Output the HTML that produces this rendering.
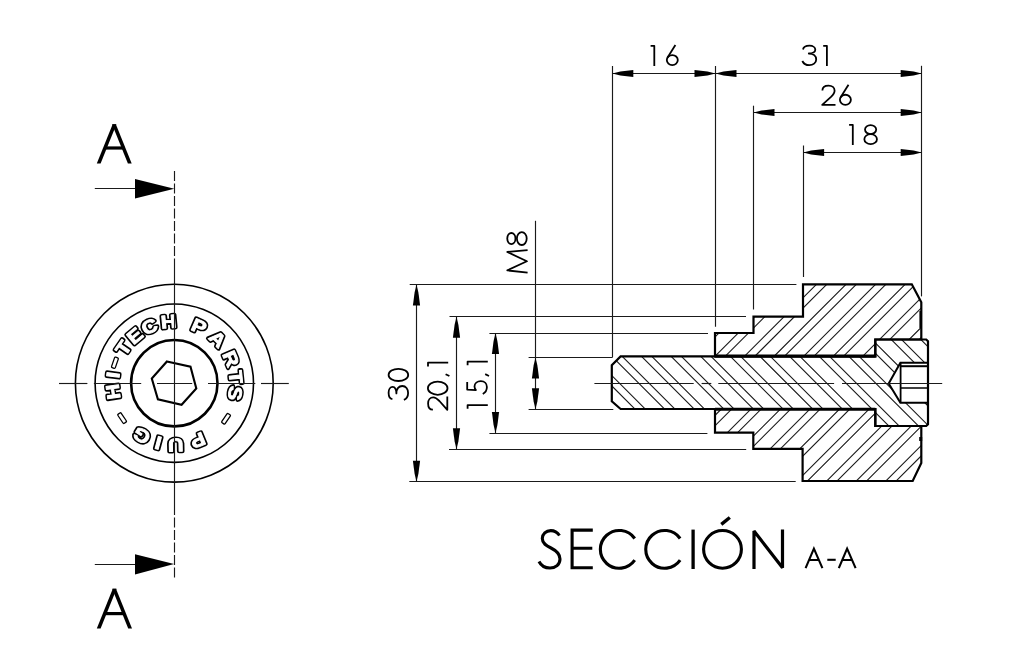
<!DOCTYPE html><html><head><meta charset="utf-8"><style>html,body{margin:0;padding:0;background:#fff;}svg{display:block;filter:grayscale(100%);}</style></head><body><svg width="1024" height="666" viewBox="0 0 1024 666">
<rect width="1024" height="666" fill="#fff"/>
<g stroke="#000" fill="none" stroke-linecap="butt">
<circle cx="174.3" cy="383.2" r="98.9" stroke-width="1.6"/>
<circle cx="174.3" cy="383.2" r="79.2" stroke-width="1.6"/>
<circle cx="174.3" cy="383.2" r="43.2" stroke-width="2.6"/>
<polygon points="166.9,361.5 190.5,366.7 196.3,388.5 181.6,404.8 157.9,399.3 151.8,378.5" stroke-width="2.1"/>
<line x1="94.8" y1="188.5" x2="136" y2="188.5" stroke-width="1.15" stroke="#1a1a1a" />
<polygon points="135,178.9 174.3,188.8 135,198.6" fill="#000" stroke="none"/>
<line x1="94.8" y1="564.5" x2="136" y2="564.5" stroke-width="1.15" stroke="#1a1a1a" />
<polygon points="135,554.3 174.1,564 135,574.5" fill="#000" stroke="none"/>
<polygon points="96.8,163.5 112.65,124.2 116.44999999999999,124.2 100.6,163.5" fill="#000" stroke="none"/>
<polygon points="112.05000000000001,124.2 115.85,124.2 131.7,163.5 127.89999999999999,163.5" fill="#000" stroke="none"/>
<rect x="104.05127226463104" y="146.4" width="20.39745547073791" height="3.2" fill="#000" stroke="none"/>
<polygon points="96.8,628.6 112.80000000000001,588.8 116.6,588.8 100.6,628.6" fill="#000" stroke="none"/>
<polygon points="112.20000000000002,588.8 116.0,588.8 132,628.6 128.2,628.6" fill="#000" stroke="none"/>
<rect x="103.83015075376883" y="612.0" width="21.13969849246233" height="3.2" fill="#000" stroke="none"/>
</g>
<g font-family="Liberation Sans, sans-serif" font-weight="bold" font-size="18.5" text-anchor="middle">
<text transform="rotate(262 174.3 383.2) translate(174.3 327.8) scale(1.15 1)" fill="#000" stroke="#000" stroke-width="4.0" stroke-linejoin="round">H</text>
<text transform="rotate(277.6 174.3 383.2) translate(174.3 327.8) scale(1.15 1)" fill="#000" stroke="#000" stroke-width="4.0" stroke-linejoin="round">I</text>
<text transform="rotate(304.6 174.3 383.2) translate(174.3 327.8) scale(1.15 1)" fill="#000" stroke="#000" stroke-width="4.0" stroke-linejoin="round">T</text>
<text transform="rotate(320.2 174.3 383.2) translate(174.3 327.8) scale(1.15 1)" fill="#000" stroke="#000" stroke-width="4.0" stroke-linejoin="round">E</text>
<text transform="rotate(336.3 174.3 383.2) translate(174.3 327.8) scale(1.15 1)" fill="#000" stroke="#000" stroke-width="4.0" stroke-linejoin="round">C</text>
<text transform="rotate(354.6 174.3 383.2) translate(174.3 327.8) scale(1.15 1)" fill="#000" stroke="#000" stroke-width="4.0" stroke-linejoin="round">H</text>
<text transform="rotate(23.6 174.3 383.2) translate(174.3 327.8) scale(1.15 1)" fill="#000" stroke="#000" stroke-width="4.0" stroke-linejoin="round">P</text>
<text transform="rotate(44.5 174.3 383.2) translate(174.3 327.8) scale(1.15 1)" fill="#000" stroke="#000" stroke-width="4.0" stroke-linejoin="round">A</text>
<text transform="rotate(66.6 174.3 383.2) translate(174.3 327.8) scale(1.15 1)" fill="#000" stroke="#000" stroke-width="4.0" stroke-linejoin="round">R</text>
<text transform="rotate(84.2 174.3 383.2) translate(174.3 327.8) scale(1.15 1)" fill="#000" stroke="#000" stroke-width="4.0" stroke-linejoin="round">T</text>
<text transform="rotate(99.3 174.3 383.2) translate(174.3 327.8) scale(1.15 1)" fill="#000" stroke="#000" stroke-width="4.0" stroke-linejoin="round">S</text>
<text transform="rotate(157.7 174.3 383.2) translate(174.3 327.8) scale(1.15 1)" fill="#000" stroke="#000" stroke-width="4.0" stroke-linejoin="round">P</text>
<text transform="rotate(178.7 174.3 383.2) translate(174.3 327.8) scale(1.15 1)" fill="#000" stroke="#000" stroke-width="4.0" stroke-linejoin="round">U</text>
<text transform="rotate(195 174.3 383.2) translate(174.3 327.8) scale(1.15 1)" fill="#000" stroke="#000" stroke-width="4.0" stroke-linejoin="round">I</text>
<text transform="rotate(211.9 174.3 383.2) translate(174.3 327.8) scale(1.15 1)" fill="#000" stroke="#000" stroke-width="4.0" stroke-linejoin="round">G</text>
<text transform="rotate(262 174.3 383.2) translate(174.3 327.8) scale(1.15 1)" fill="#fff" stroke="#fff" stroke-width="0.9" stroke-linejoin="round">H</text>
<text transform="rotate(277.6 174.3 383.2) translate(174.3 327.8) scale(1.15 1)" fill="#fff" stroke="#fff" stroke-width="0.9" stroke-linejoin="round">I</text>
<text transform="rotate(304.6 174.3 383.2) translate(174.3 327.8) scale(1.15 1)" fill="#fff" stroke="#fff" stroke-width="0.9" stroke-linejoin="round">T</text>
<text transform="rotate(320.2 174.3 383.2) translate(174.3 327.8) scale(1.15 1)" fill="#fff" stroke="#fff" stroke-width="0.9" stroke-linejoin="round">E</text>
<text transform="rotate(336.3 174.3 383.2) translate(174.3 327.8) scale(1.15 1)" fill="#fff" stroke="#fff" stroke-width="0.9" stroke-linejoin="round">C</text>
<text transform="rotate(354.6 174.3 383.2) translate(174.3 327.8) scale(1.15 1)" fill="#fff" stroke="#fff" stroke-width="0.9" stroke-linejoin="round">H</text>
<text transform="rotate(23.6 174.3 383.2) translate(174.3 327.8) scale(1.15 1)" fill="#fff" stroke="#fff" stroke-width="0.9" stroke-linejoin="round">P</text>
<text transform="rotate(44.5 174.3 383.2) translate(174.3 327.8) scale(1.15 1)" fill="#fff" stroke="#fff" stroke-width="0.9" stroke-linejoin="round">A</text>
<text transform="rotate(66.6 174.3 383.2) translate(174.3 327.8) scale(1.15 1)" fill="#fff" stroke="#fff" stroke-width="0.9" stroke-linejoin="round">R</text>
<text transform="rotate(84.2 174.3 383.2) translate(174.3 327.8) scale(1.15 1)" fill="#fff" stroke="#fff" stroke-width="0.9" stroke-linejoin="round">T</text>
<text transform="rotate(99.3 174.3 383.2) translate(174.3 327.8) scale(1.15 1)" fill="#fff" stroke="#fff" stroke-width="0.9" stroke-linejoin="round">S</text>
<text transform="rotate(157.7 174.3 383.2) translate(174.3 327.8) scale(1.15 1)" fill="#fff" stroke="#fff" stroke-width="0.9" stroke-linejoin="round">P</text>
<text transform="rotate(178.7 174.3 383.2) translate(174.3 327.8) scale(1.15 1)" fill="#fff" stroke="#fff" stroke-width="0.9" stroke-linejoin="round">U</text>
<text transform="rotate(195 174.3 383.2) translate(174.3 327.8) scale(1.15 1)" fill="#fff" stroke="#fff" stroke-width="0.9" stroke-linejoin="round">I</text>
<text transform="rotate(211.9 174.3 383.2) translate(174.3 327.8) scale(1.15 1)" fill="#fff" stroke="#fff" stroke-width="0.9" stroke-linejoin="round">G</text>
<rect x="168.8" y="318.4" width="11" height="4" rx="1" transform="rotate(289 174.3 383.2)" fill="#fff" stroke="#000" stroke-width="1.3"/>
<rect x="168.8" y="318.4" width="11" height="4" rx="1" transform="rotate(124.5 174.3 383.2)" fill="#fff" stroke="#000" stroke-width="1.3"/>
<rect x="168.8" y="318.4" width="11" height="4" rx="1" transform="rotate(236.2 174.3 383.2)" fill="#fff" stroke="#000" stroke-width="1.3"/>
</g>
<g stroke="#000" fill="none">
<line x1="59" y1="383.5" x2="87.4" y2="383.5" stroke-width="1.15" stroke="#1a1a1a" />
<line x1="93.9" y1="383.5" x2="141.2" y2="383.5" stroke-width="1.15" stroke="#1a1a1a" />
<line x1="157" y1="383.5" x2="192.2" y2="383.5" stroke-width="1.15" stroke="#1a1a1a" />
<line x1="208" y1="383.5" x2="255.3" y2="383.5" stroke-width="1.15" stroke="#1a1a1a" />
<line x1="261" y1="383.5" x2="288.8" y2="383.5" stroke-width="1.15" stroke="#1a1a1a" />
<line x1="174.5" y1="171" x2="174.5" y2="262" stroke-width="1.15" stroke="#1a1a1a" stroke-dasharray="10 2.5"/>
<line x1="174.5" y1="262" x2="174.5" y2="505" stroke-width="1.15" stroke="#1a1a1a" />
<line x1="174.5" y1="505" x2="174.5" y2="577.5" stroke-width="1.15" stroke="#1a1a1a" stroke-dasharray="10 2.5"/>
</g>
<defs>
<clipPath id="cn"><path d="M803,284.3 L911.8,284.3 L921.3,302.2 L921.3,339.5 L875.3,339.5 L875.3,356.4 L715,356.4 L715,333 L753.5,333 L753.5,316.6 L803,316.6 Z M802.6,481 L912.7,481 L921.3,462.9 L921.3,426 L875.3,426 L875.3,409 L715,409 L715,432.6 L753.3,432.6 L753.3,448.8 L802.6,448.8 Z"/></clipPath>
<clipPath id="cb"><path d="M620.6,356.4 L875.3,356.4 L875.3,339.5 L926.2,339.5 L928,341.3 L928,424.2 L926.2,426 L875.3,426 L875.3,409 L620.6,409 L611.8,401.3 L611.8,365.2 Z M928,362.8 L900.4,362.8 L888.7,383.5 L900.4,402.8 L928,402.8 Z" clip-rule="evenodd"/></clipPath>
</defs>
<path clip-path="url(#cn)" d="M492.86,500 L722.86,270 M512.12,500 L742.12,270 M522.42,500 L752.42,270 M541.6800000000001,500 L771.6800000000001,270 M551.98,500 L781.98,270 M571.24,500 L801.24,270 M581.54,500 L811.54,270 M600.8,500 L830.8,270 M611.0999999999999,500 L841.0999999999999,270 M630.3599999999999,500 L860.3599999999999,270 M640.6599999999999,500 L870.6599999999999,270 M659.9200000000001,500 L889.9200000000001,270 M670.22,500 L900.22,270 M689.48,500 L919.48,270 M699.78,500 L929.78,270 M719.04,500 L949.04,270 M729.3399999999999,500 L959.3399999999999,270 M748.5999999999999,500 L978.5999999999999,270 M758.8999999999999,500 L988.8999999999999,270 M778.1600000000001,500 L1008.1600000000001,270 M788.46,500 L1018.46,270 M807.72,500 L1037.72,270 M818.02,500 L1048.02,270 M837.28,500 L1067.28,270 M847.5799999999999,500 L1077.58,270 M866.8399999999999,500 L1096.84,270 M877.1399999999999,500 L1107.1399999999999,270 M896.4000000000001,500 L1126.4,270 M906.7,500 L1136.7,270" stroke="#1a1a1a" stroke-width="1.1" fill="none"/>
<path clip-path="url(#cb)" d="M506.96000000000004,330 L616.96,440 M526.28,330 L636.28,440 M536.58,330 L646.58,440 M555.9,330 L665.9,440 M566.2,330 L676.2,440 M585.52,330 L695.52,440 M595.8199999999999,330 L705.8199999999999,440 M615.14,330 L725.14,440 M625.44,330 L735.44,440 M644.76,330 L754.76,440 M655.06,330 L765.06,440 M674.38,330 L784.38,440 M684.6800000000001,330 L794.6800000000001,440 M704.0,330 L814.0,440 M714.3,330 L824.3,440 M733.62,330 L843.62,440 M743.9200000000001,330 L853.9200000000001,440 M763.24,330 L873.24,440 M773.54,330 L883.54,440 M792.86,330 L902.86,440 M803.1600000000001,330 L913.1600000000001,440 M822.48,330 L932.48,440 M832.78,330 L942.78,440 M852.1,330 L962.1,440 M862.4,330 L972.4,440 M881.72,330 L991.72,440 M892.02,330 L1002.02,440 M911.34,330 L1021.34,440 M921.64,330 L1031.6399999999999,440" stroke="#1a1a1a" stroke-width="1.1" fill="none"/>
<g stroke="#000" fill="none">
<path d="M803,284.3 L911.8,284.3 L921.3,302.2 L921.3,339.5 L875.3,339.5 L875.3,356.4 L715,356.4 L715,333 L753.5,333 L753.5,316.6 L803,316.6 Z" stroke-width="2.2" stroke-linejoin="miter"/>
<path d="M802.6,481 L912.7,481 L921.3,462.9 L921.3,426 L875.3,426 L875.3,409 L715,409 L715,432.6 L753.3,432.6 L753.3,448.8 L802.6,448.8 Z" stroke-width="2.2" stroke-linejoin="miter"/>
<path d="M620.6,356.4 L875.3,356.4 L875.3,339.5 L926.2,339.5 L928,341.3 L928,424.2 L926.2,426 L875.3,426 L875.3,409 L620.6,409 L611.8,401.3 L611.8,365.2 Z" stroke-width="2.2" stroke-linejoin="miter"/>
<line x1="715" y1="356.1" x2="875.3" y2="356.1" stroke-width="3.0" />
<line x1="715" y1="409.2" x2="875.3" y2="409.2" stroke-width="3.0" />
<rect x="919.4" y="311" width="2.4" height="17" fill="#000" stroke="none"/>
<rect x="919.2" y="437" width="3" height="4" fill="#000" stroke="none"/>
<path d="M928,362.8 L900.4,362.8 L888.7,383.5 L900.4,402.8 L928,402.8" stroke-width="2"/>
<line x1="900.6" y1="362.8" x2="900.6" y2="402.8" stroke-width="1.8" />
<line x1="900.6" y1="366.2" x2="928" y2="366.2" stroke-width="2.0" />
<line x1="901" y1="388" x2="928" y2="388" stroke-width="1.5" />
<line x1="594.4" y1="383.5" x2="693.7" y2="383.5" stroke-width="1.15" stroke="#1a1a1a" />
<line x1="701.6" y1="383.5" x2="711.3" y2="383.5" stroke-width="1.15" stroke="#1a1a1a" />
<line x1="718.3" y1="383.5" x2="834.1" y2="383.5" stroke-width="1.15" stroke="#1a1a1a" />
<line x1="842" y1="383.5" x2="942.2" y2="383.5" stroke-width="1.15" stroke="#1a1a1a" />
<line x1="612.5" y1="66" x2="612.5" y2="357" stroke-width="1.15" stroke="#1a1a1a" />
<line x1="715.5" y1="66" x2="715.5" y2="326.7" stroke-width="1.15" stroke="#1a1a1a" />
<line x1="753.5" y1="105.7" x2="753.5" y2="309.5" stroke-width="1.15" stroke="#1a1a1a" />
<line x1="803.5" y1="145.5" x2="803.5" y2="277" stroke-width="1.15" stroke="#1a1a1a" />
<line x1="921.5" y1="65.8" x2="921.5" y2="296.4" stroke-width="1.15" stroke="#1a1a1a" />
<line x1="612.3" y1="73.5" x2="921.7" y2="73.5" stroke-width="1.15" stroke="#1a1a1a" />
<line x1="753.5" y1="112.5" x2="921.7" y2="112.5" stroke-width="1.15" stroke="#1a1a1a" />
<line x1="803.1" y1="152.5" x2="921.7" y2="152.5" stroke-width="1.15" stroke="#1a1a1a" />
<polygon points="612.30,73.50 620.30,71.60 633.30,69.90 633.30,77.10 620.30,75.40" fill="#000" stroke="none"/>
<polygon points="715.50,73.50 707.50,75.40 694.50,77.10 694.50,69.90 707.50,71.60" fill="#000" stroke="none"/>
<polygon points="715.50,73.50 723.50,71.60 736.50,69.90 736.50,77.10 723.50,75.40" fill="#000" stroke="none"/>
<polygon points="921.70,73.50 913.70,75.40 900.70,77.10 900.70,69.90 913.70,71.60" fill="#000" stroke="none"/>
<polygon points="753.50,112.50 761.50,110.60 774.50,108.90 774.50,116.10 761.50,114.40" fill="#000" stroke="none"/>
<polygon points="921.70,112.50 913.70,114.40 900.70,116.10 900.70,108.90 913.70,110.60" fill="#000" stroke="none"/>
<polygon points="803.10,152.50 811.10,150.60 824.10,148.90 824.10,156.10 811.10,154.40" fill="#000" stroke="none"/>
<polygon points="921.70,152.50 913.70,154.40 900.70,156.10 900.70,148.90 913.70,150.60" fill="#000" stroke="none"/>
<line x1="409.7" y1="284.5" x2="796.4" y2="284.5" stroke-width="1.15" stroke="#1a1a1a" />
<line x1="409.3" y1="481.5" x2="795.7" y2="481.5" stroke-width="1.15" stroke="#1a1a1a" />
<line x1="449.5" y1="316.5" x2="746" y2="316.5" stroke-width="1.15" stroke="#1a1a1a" />
<line x1="449" y1="449.5" x2="746.2" y2="449.5" stroke-width="1.15" stroke="#1a1a1a" />
<line x1="489.4" y1="333.5" x2="708" y2="333.5" stroke-width="1.15" stroke="#1a1a1a" />
<line x1="489.4" y1="433.5" x2="707.4" y2="433.5" stroke-width="1.15" stroke="#1a1a1a" />
<line x1="528.6" y1="357.5" x2="612.7" y2="357.5" stroke-width="1.15" stroke="#1a1a1a" />
<line x1="528.6" y1="409.5" x2="613.3" y2="409.5" stroke-width="1.15" stroke="#1a1a1a" />
<line x1="416.5" y1="284.5" x2="416.5" y2="481.7" stroke-width="1.15" stroke="#1a1a1a" />
<line x1="456.5" y1="316.8" x2="456.5" y2="449.2" stroke-width="1.15" stroke="#1a1a1a" />
<line x1="495.5" y1="333" x2="495.5" y2="433" stroke-width="1.15" stroke="#1a1a1a" />
<line x1="535.5" y1="220.8" x2="535.5" y2="409.3" stroke-width="1.15" stroke="#1a1a1a" />
<polygon points="416.50,284.50 418.40,292.50 420.10,305.50 412.90,305.50 414.60,292.50" fill="#000" stroke="none"/>
<polygon points="416.50,481.70 414.60,473.70 412.90,460.70 420.10,460.70 418.40,473.70" fill="#000" stroke="none"/>
<polygon points="456.50,316.80 458.40,324.80 460.10,337.80 452.90,337.80 454.60,324.80" fill="#000" stroke="none"/>
<polygon points="456.50,449.20 454.60,441.20 452.90,428.20 460.10,428.20 458.40,441.20" fill="#000" stroke="none"/>
<polygon points="495.50,333.00 497.40,341.00 499.10,354.00 491.90,354.00 493.60,341.00" fill="#000" stroke="none"/>
<polygon points="495.50,433.00 493.60,425.00 491.90,412.00 499.10,412.00 497.40,425.00" fill="#000" stroke="none"/>
<polygon points="535.50,357.40 537.40,365.40 539.10,378.40 531.90,378.40 533.60,365.40" fill="#000" stroke="none"/>
<polygon points="535.50,409.30 533.60,401.30 531.90,388.30 539.10,388.30 537.40,401.30" fill="#000" stroke="none"/>
</g>
<g transform="translate(650.6,66)" fill="none" stroke="#000" stroke-width="1.8" stroke-linejoin="round"><path d="M0 -20.2 H3.7 V0"/><path d="M24.8 -20.9 L16.94 -8.45"/><ellipse cx="21.700000000000003" cy="-5.9" rx="5.5" ry="5.05"/></g>
<g transform="translate(802,66)" fill="none" stroke="#000" stroke-width="1.8" stroke-linejoin="round"><path transform="translate(0,0)" d="M1 -16.5 C1.5 -19.3 4.3 -20.3 7.5 -20.3 C11 -20.3 13.3 -18.5 13.3 -16.3 C13.3 -13.8 10.5 -12.5 6.8 -12.5 C11.5 -12.5 14.2 -10 14.2 -6.6 C14.2 -3 11 -0.8 7.3 -0.8 C4 -0.8 1.5 -2.5 0.3 -5"/><path d="M21.2 -20.2 H24.9 V0"/></g>
<g transform="translate(821,105.7)" fill="none" stroke="#000" stroke-width="1.8" stroke-linejoin="round"><path transform="translate(0,0)" d="M1.4 -15.3 C1.4 -18.5 4.2 -20.1 7.6 -20.1 C11 -20.1 13.6 -18 13.6 -15 C13.6 -12.5 12 -10.8 10 -8.8 L1.2 -0.9 H14.5"/><path d="M27.5 -20.9 L19.64 -8.45"/><ellipse cx="24.4" cy="-5.9" rx="5.5" ry="5.05"/></g>
<g transform="translate(849.1,145)" fill="none" stroke="#000" stroke-width="1.8" stroke-linejoin="round"><path d="M0 -20.2 H3.7 V0"/><ellipse cx="21.5" cy="-15.4" rx="5.6" ry="4.5"/><ellipse cx="21.55" cy="-5.85" rx="6.3" ry="4.95"/></g>
<g transform="translate(408.9,400.2) rotate(-90)" fill="none" stroke="#000" stroke-width="1.8" stroke-linejoin="round"><path transform="translate(0,0)" d="M1 -16.5 C1.5 -19.3 4.3 -20.3 7.5 -20.3 C11 -20.3 13.3 -18.5 13.3 -16.3 C13.3 -13.8 10.5 -12.5 6.8 -12.5 C11.5 -12.5 14.2 -10 14.2 -6.6 C14.2 -3 11 -0.8 7.3 -0.8 C4 -0.8 1.5 -2.5 0.3 -5"/><ellipse cx="25.3" cy="-10.5" rx="6.1" ry="9.8"/></g>
<g transform="translate(448.2,411) rotate(-90)" fill="none" stroke="#000" stroke-width="1.8" stroke-linejoin="round"><path transform="translate(0,0)" d="M1.4 -15.3 C1.4 -18.5 4.2 -20.1 7.6 -20.1 C11 -20.1 13.6 -18 13.6 -15 C13.6 -12.5 12 -10.8 10 -8.8 L1.2 -0.9 H14.5"/><ellipse cx="22.8" cy="-10.5" rx="6.6" ry="9.8"/><path d="M36.8 -2.6 L35 1.2"/><path d="M44.6 -20.2 H48.300000000000004 V0"/></g>
<g transform="translate(487.8,408.75) rotate(-90)" fill="none" stroke="#000" stroke-width="1.8" stroke-linejoin="round"><path d="M0 -20.2 H3.7 V0"/><path transform="translate(14,0)" d="M12.75 -20.6 H5.15 L4.7 -11.9 C6 -12.9 7.2 -13.3 8.2 -13.3 C11.5 -13.3 13.6 -10.5 13.6 -7 C13.6 -3.2 11 -0.9 7.8 -0.9 C4.8 -0.9 2.2 -2.5 0.8 -5"/><path d="M34.599999999999994 -2.6 L32.8 1.2"/><path d="M43.5 -20.2 H47.2 V0"/></g>
<g transform="translate(527.9,273) rotate(-90)" fill="none" stroke="#000" stroke-width="1.8" stroke-linejoin="round"><path transform="translate(0,0)" d="M0.4 -0.3 L2.6 -20.6 L11.7 -1.0 L21.0 -20.6 L22.9 -0.3" stroke-linejoin="round"/><ellipse cx="34.45" cy="-16.55" rx="5.55" ry="4.1"/><ellipse cx="34.4" cy="-6.1" rx="6.4" ry="4.9"/></g>
<g stroke="#000" fill="none" stroke-width="3.1">
<path d="M559.5 535.5 C557.5 532.5 554.5 530.6 550.8 530.6 C546 530.6 542.3 534 542.3 538.5 C542.3 543.5 546.5 545.8 551 548 C556 550.5 560 553.5 560 559 C560 564.5 555.5 568 550 568 C545 568 541 565.5 539 561.5"/>
<path d="M592.8 530.1 H572.1 V567.8 H592.8 M572.1 548.3 H592.3"/>
<path d="M634.73 538.51 A18.9 18.9 0 1 0 634.73 560.19"/>
<path d="M680.13 538.51 A18.9 18.9 0 1 0 680.13 560.19"/>
<path d="M693.1 529.6 V569.0" stroke-width="3.3"/>
<circle cx="722.5" cy="549.35" r="18.9"/>
<path d="M721.3 524.3 L729.8 517.5" stroke-width="3.4"/>
<path d="M754 569.0 V531 L782.5 567.8 V529.6" stroke-width="3.2" stroke-linejoin="bevel"/>
</g>
<g stroke="#000" fill="none" stroke-width="2.1">
<path d="M805.6 568.1 L813.9 548.6 L822.4 568.1 M809 560 H818.9"/>
<path d="M827.3 559.8 H835.7"/>
<path d="M838.8 568.1 L847.1 548.6 L855.6 568.1 M842.2 560 H852"/>
</g>
</svg></body></html>
